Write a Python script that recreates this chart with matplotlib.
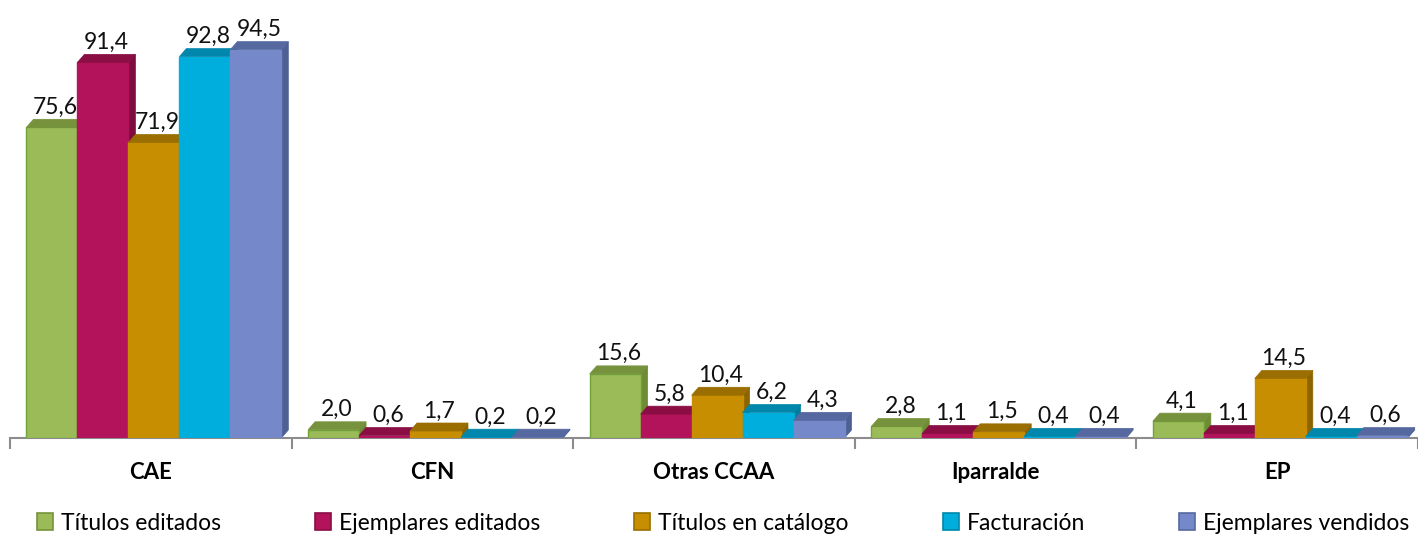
import matplotlib.pyplot as plt
from matplotlib.patches import Polygon, Patch

plt.rcParams['font.family'] = ['Lato', 'DejaVu Sans']

categories = ["CAE", "CFN", "Otras CCAA", "Iparralde", "EP"]
series = ["Títulos editados", "Ejemplares editados", "Títulos en catálogo",
          "Facturación", "Ejemplares vendidos"]
values = [
    [75.6, 2.0, 15.6, 2.8, 4.1],
    [91.4, 0.6, 5.8, 1.1, 1.1],
    [71.9, 1.7, 10.4, 1.5, 14.5],
    [92.8, 0.2, 6.2, 0.4, 0.4],
    [94.5, 0.2, 4.3, 0.4, 0.6],
]

front = ['#9BBB59', '#B3135A', '#C68E00', '#00AEDD', '#7488CA']
top = ['#76923C', '#8A0E44', '#9A6E00', '#0087AB', '#5668A0']
side = ['#6E8C35', '#7E0C3E', '#8C6400', '#007C9E', '#4E5F94']
edges = ['#6FA336', '#B3135A', '#C68E00', '#00AEDD', '#7488CA']

W, H = 1418, 536
fig = plt.figure(figsize=(W / 100, H / 100), dpi=100)
ax_left, ax_bottom, ax_w, ax_h = 10, 98, 1408, 411
ax = fig.add_axes([ax_left / W, ax_bottom / H, ax_w / W, ax_h / H])
ax.set_xlim(-0.5, 4.5)
ax.set_ylim(0, 100)

bw = 0.181
dx = 7 / ax_w * 5
dy = 8 / ax_h * 100

for k, s in enumerate(series):
    for i, v in enumerate(values[k]):
        x0 = i + (k - 2.5) * bw + 0.011
        ax.bar(x0, v, width=bw, align='edge', color=front[k], edgecolor=edges[k],
               linewidth=1.0, zorder=3)
        ax.add_patch(Polygon([(x0, v), (x0 + dx, v + dy), (x0 + bw + dx, v + dy), (x0 + bw, v)],
                             closed=True, facecolor=top[k], edgecolor=top[k], lw=0.5, zorder=3))
        ax.add_patch(Polygon([(x0 + bw, 0), (x0 + bw + dx, dy), (x0 + bw + dx, v + dy), (x0 + bw, v)],
                             closed=True, facecolor=side[k], edgecolor=side[k], lw=0.5, zorder=2))
        ax.text(x0 + bw / 2 + dx / 2, v + dy + 0.4, f"{v:.1f}".replace('.', ','),
                ha='center', va='bottom', fontsize=16.5, color='#111111', zorder=5)

for sp in ['top', 'right', 'left']:
    ax.spines[sp].set_visible(False)
ax.spines['bottom'].set_color('#8c8c8c')
ax.spines['bottom'].set_linewidth(1.5)
ax.set_yticks([])
ax.set_xticks([i - 0.5 for i in range(6)])
ax.set_xticklabels([])
ax.tick_params(axis='x', direction='out', length=8, width=1.5, color='#8c8c8c')
for i, c in enumerate(categories):
    ax.text(i, -8.5, c, ha='center', va='center', fontsize=16, fontweight='bold',
            transform=ax.transData, clip_on=False)

handles = [Patch(facecolor=front[k], edgecolor=top[k], linewidth=1.2) for k in range(5)]
fig.legend(handles, series, loc='center', bbox_to_anchor=(0.5 + 14 / W, 13 / H), ncol=5,
           frameon=False, fontsize=16.5, handlelength=0.7, handleheight=0.7,
           handletextpad=0.35, columnspacing=4.1)

fig.savefig("out.png", dpi=100)
